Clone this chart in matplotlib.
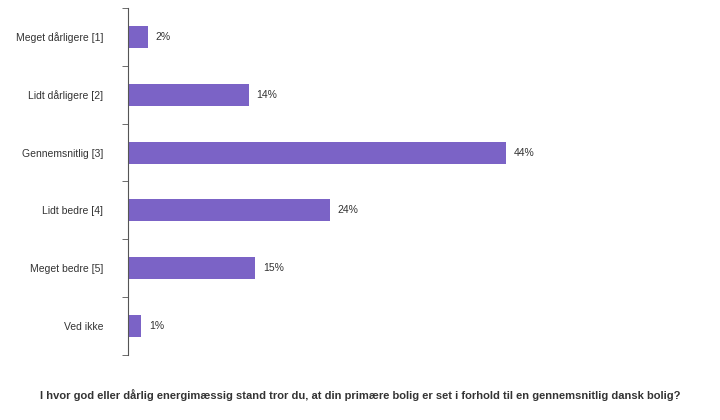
import matplotlib.pyplot as plt
import numpy as np

plt.rcParams['font.family'] = 'Liberation Sans'

categories = ['Meget dårligere [1]', 'Lidt dårligere [2]', 'Gennemsnitlig [3]',
              'Lidt bedre [4]', 'Meget bedre [5]', 'Ved ikke']
values = [2.3, 14.0, 44.0, 23.5, 14.8, 1.5]
labels = ['2%', '14%', '44%', '24%', '15%', '1%']

fig = plt.figure(figsize=(7.2, 4.2), dpi=100)
ax = fig.add_axes([0.178, 0.155, 0.80, 0.826])
y = np.arange(len(categories))
ax.barh(y, values, height=0.38, color='#7b63c6')
for yi, v, l in zip(y, values, labels):
    ax.text(v + 0.9, yi, l, va='center', ha='left', fontsize=7.5, color='#333333')
ax.set_ylim(len(categories) - 0.5, -0.5)
ax.set_xlim(0, 67)
ax.set_yticks(y)
ax.set_yticklabels(categories, fontsize=7.5, color='#333333')
ax.tick_params(axis='y', length=0, pad=18)
ax.set_yticks(np.arange(-0.5, len(categories)), minor=True)
ax.tick_params(axis='y', which='minor', length=4, color='#555555')
ax.set_xticks([])
for s in ['top', 'right', 'bottom']:
    ax.spines[s].set_visible(False)
ax.spines['left'].set_color('#555555')
fig.text(0.5, 0.06, 'I hvor god eller dårlig energimæssig stand tror du, at din primære bolig er set i forhold til en gennemsnitlig dansk bolig?',
         ha='center', va='center', fontsize=8, fontweight='bold', color='#333333')
fig.savefig('out.png')
